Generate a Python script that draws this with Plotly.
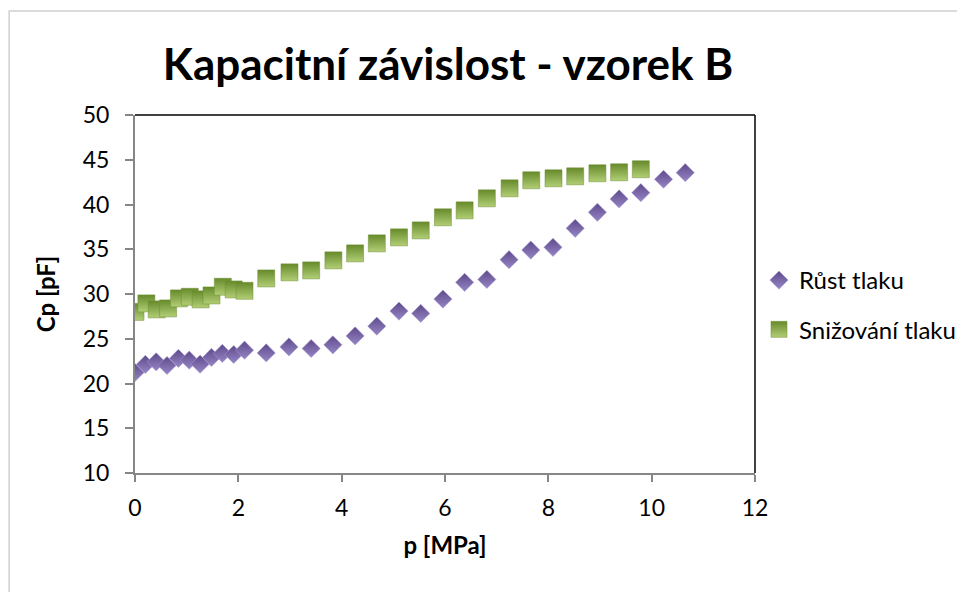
import plotly.graph_objects as go

# Snižování tlaku (green squares)
p_down = [0.01, 0.22, 0.42, 0.64, 0.85, 1.06, 1.27, 1.48, 1.70, 1.91, 2.12,
          2.54, 2.99, 3.41, 3.84, 4.26, 4.68, 5.11, 5.53, 5.96, 6.38, 6.81,
          7.25, 7.67, 8.10, 8.52, 8.95, 9.37, 9.79]
cp_down = [28.0, 28.95, 28.28, 28.39, 29.51, 29.69, 29.40, 29.84, 30.81, 30.51, 30.36,
           31.74, 32.42, 32.64, 33.76, 34.54, 35.66, 36.33, 37.11, 38.57, 39.35, 40.69,
           41.81, 42.71, 42.93, 43.15, 43.49, 43.60, 43.94]

# Růst tlaku (purple diamonds)
p_up = [0.0, 0.20, 0.41, 0.62, 0.84, 1.05, 1.26, 1.48, 1.69, 1.91, 2.12,
        2.54, 2.98, 3.41, 3.83, 4.26, 4.68, 5.11, 5.53, 5.96, 6.38, 6.81,
        7.24, 7.66, 8.09, 8.52, 8.95, 9.37, 9.79, 10.23, 10.65]
cp_up = [21.23, 22.13, 22.42, 22.01, 22.80, 22.61, 22.16, 22.91, 23.36, 23.24, 23.72,
         23.42, 24.09, 23.91, 24.32, 25.32, 26.41, 28.09, 27.83, 29.43, 31.30, 31.63,
         33.83, 34.91, 35.21, 37.34, 39.13, 40.62, 41.32, 42.82, 43.56]

x_ticks = [0, 2, 4, 6, 8, 10, 12]
y_ticks = [10, 15, 20, 25, 30, 35, 40, 45, 50]

FONT = "Lato"
W, H = 965, 592
ML, MT, PW, PH = 127, 107, 622, 358
MR, MB = W - ML - PW, H - MT - PH

def px_to_paper_x(px):
    return (px - ML) / PW

def px_to_paper_y(py):
    return (MT + PH - py) / PH

fig = go.Figure()
fig.add_trace(go.Scatter(
    x=p_up, y=cp_up, mode="markers", name="Růst tlaku", legendgroup="a",
    marker=dict(symbol="diamond", size=14, color="#5E4A8A",
                gradient=dict(type="vertical", color="#9686C6"),
                line=dict(width=0.5, color="#A898D0")),
))
fig.add_trace(go.Scatter(
    x=p_down, y=cp_down, mode="markers", name="Snižování tlaku", legendgroup="b",
    marker=dict(symbol="square", size=17, color="#668A2A",
                gradient=dict(type="vertical", color="#B2CE76"),
                line=dict(width=0.5, color="#6E8F33")),
))

fig.update_layout(
    width=W, height=H,
    margin=dict(l=ML, r=MR, t=MT, b=MB),
    paper_bgcolor="white", plot_bgcolor="white",
    font=dict(family=FONT, color="black"),
    title=dict(text="<b>Kapacitní závislost - vzorek B</b>",
               font=dict(family=FONT, size=44, color="black"),
               x=440 / W, xanchor="center", xref="container",
               y=1 - 57 / H, yanchor="middle", yref="container"),
    showlegend=True,
    legend=dict(x=px_to_paper_x(753), xanchor="left",
                y=px_to_paper_y(250), yanchor="top",
                font=dict(family=FONT, size=24, color="black"),
                traceorder="grouped", tracegroupgap=15,
                bgcolor="rgba(0,0,0,0)"),
    xaxis=dict(range=[0, 12], tickvals=x_ticks, ticktext=[str(v) for v in x_ticks],
               showgrid=False, zeroline=False, showline=True,
               linecolor="#868686", linewidth=2, ticks="outside", ticklen=7,
               tickwidth=2, tickcolor="#868686", automargin=False,
               tickfont=dict(family=FONT, size=23, color="black"),
               ticklabelstandoff=6,
               title=dict(text="<b>p [MPa]</b>", font=dict(family=FONT, size=24, color="black"),
                          standoff=18)),
    yaxis=dict(range=[10, 50], tickvals=y_ticks, ticktext=[str(v) for v in y_ticks],
               showgrid=False, zeroline=False, showline=True,
               linecolor="#868686", linewidth=2, ticks="outside", ticklen=8,
               tickwidth=2, tickcolor="#868686", automargin=False,
               tickfont=dict(family=FONT, size=23, color="black"),
               ticklabelstandoff=11,
               title=dict(text="<b>Cp [pF]</b>", font=dict(family=FONT, size=24, color="black"),
                          standoff=20)),
    shapes=[
        # plot area top and right border
        dict(type="line", xref="paper", yref="paper", x0=0, x1=1, y0=1, y1=1,
             line=dict(color="black", width=1.5)),
        dict(type="line", xref="paper", yref="paper", x0=1, x1=1, y0=0, y1=1,
             line=dict(color="black", width=1.5)),
        # outer chart border
        dict(type="rect", xref="paper", yref="paper",
             x0=px_to_paper_x(0.75), x1=px_to_paper_x(1010),
             y0=px_to_paper_y(650), y1=px_to_paper_y(3),
             line=dict(color="#D0D0D0", width=1.5), layer="below"),
    ],
)

fig.write_html("out.html")
